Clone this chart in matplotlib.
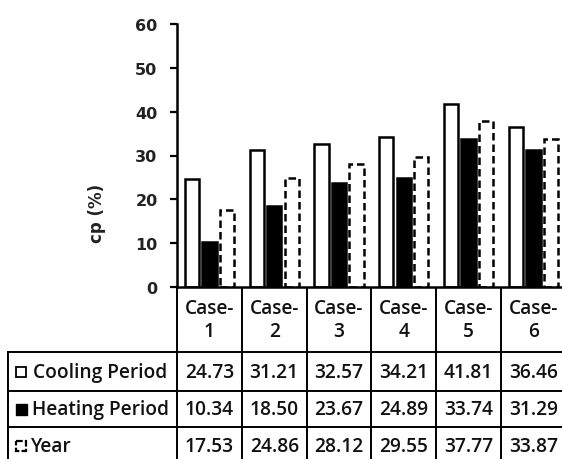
import numpy as np
import matplotlib
matplotlib.use("Agg")
import matplotlib.pyplot as plt
from matplotlib.patches import Rectangle

# Data
cases = ["Case-\n1", "Case-\n2", "Case-\n3", "Case-\n4", "Case-\n5", "Case-\n6"]
series_names = ["Cooling Period", "Heating Period", "Year"]
cooling = [24.73, 31.21, 32.57, 34.21, 41.81, 36.46]
heating = [10.34, 18.50, 23.67, 24.89, 33.74, 31.29]
year = [17.53, 24.86, 28.12, 29.55, 37.77, 33.87]
yticks = [0, 10, 20, 30, 40, 50, 60]

W, H = 562, 460
fig = plt.figure(figsize=(W / 100, H / 100), dpi=100)

tick_font = dict(family="DejaVu Sans", size=11.5, weight="bold", color="#222222")
table_font = dict(family="Open Sans", size=13.8, weight="semibold", color="#111111")

# Chart area (pixel layout)
ax_left, ax_top, ax_bottom, col_w = 177, 25, 288, 64.8
ax = fig.add_axes([ax_left / W, (H - ax_bottom) / H,
                   6 * col_w / W, (ax_bottom - ax_top) / H])
x = np.arange(len(cases))
bw = 0.22
ax.bar(x - 0.27, cooling, bw, facecolor="white", edgecolor="black", linewidth=1.8)
ax.bar(x, heating, bw, facecolor="black", edgecolor="black", linewidth=1.8)
ax.bar(x + 0.27, year, bw, facecolor="white", edgecolor="black", linewidth=1.8,
       linestyle=(0, (3, 1.6)))
ax.set_xlim(-0.5, len(cases) - 0.5)
ax.set_ylim(0, 60)
ax.set_yticks(yticks)
ax.set_yticklabels([str(v) for v in yticks], **tick_font)
ax.set_xticks([])
for s in ["top", "right"]:
    ax.spines[s].set_visible(False)
ax.spines["left"].set_linewidth(1.8)
ax.spines["bottom"].set_linewidth(1.8)
ax.tick_params(axis="y", direction="out", length=5, width=1.6, pad=9)

# Y-axis title, placed a little below the axis middle
fig.text(97 / W, 1 - 213 / H, "cp (%)", rotation=90, ha="center", va="center",
         fontsize=12, fontweight="bold", family="DejaVu Sans", color="#222222")

# Data table beneath the chart, drawn in pixel coordinates
tab = fig.add_axes([0, 0, 1, 1], zorder=-1)
tab.set_xlim(0, W)
tab.set_ylim(H, 0)
tab.axis("off")
lw = 1.4
row_lines = [353, 392, 428]
row_centers = [373, 410, 447]
table_left = 8
col_edges = [ax_left + i * col_w for i in range(len(cases) + 1)]

for ex in col_edges:
    tab.plot([ex, ex], [ax_bottom, H], color="black", lw=lw)
tab.plot([table_left, table_left], [row_lines[0], H], color="black", lw=lw)
for ry in row_lines:
    tab.plot([table_left, W], [ry, ry], color="black", lw=lw)

# Column headers
for i, name in enumerate(cases):
    cx = (col_edges[i] + col_edges[i + 1]) / 2
    tab.text(cx, 321, name, ha="center", va="center", linespacing=1.2, **table_font)

# Rows with legend keys
rows = [cooling, heating, year]
for r, (name, vals) in enumerate(zip(series_names, rows)):
    cy = row_centers[r]
    for i, v in enumerate(vals):
        cx = (col_edges[i] + col_edges[i + 1]) / 2
        tab.text(cx, cy, f"{v:.2f}", ha="center", va="center", **table_font)
    if r == 0:
        tab.add_patch(Rectangle((16, cy - 5), 10, 10, facecolor="white",
                                edgecolor="black", lw=1.3))
        tab.text(33, cy, name, ha="left", va="center", **table_font)
    elif r == 1:
        tab.add_patch(Rectangle((16, cy - 5.5), 11, 11, facecolor="black",
                                edgecolor="black", lw=1.0))
        tab.text(32, cy, name, ha="left", va="center", **table_font)
    else:
        tab.add_patch(Rectangle((16, cy - 5), 10, 10, facecolor="white",
                                edgecolor="black", lw=1.6, linestyle=(0, (3, 1))))
        tab.text(30, cy, name, ha="left", va="center", **table_font)

fig.savefig("out.png", dpi=100, facecolor="white")
